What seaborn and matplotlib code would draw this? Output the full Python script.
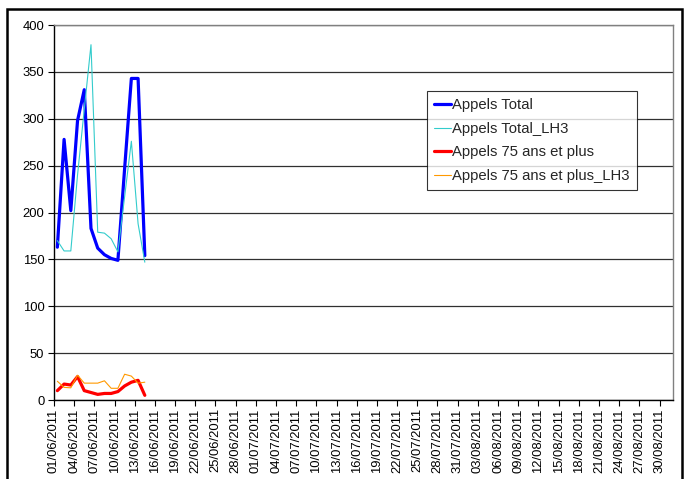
import matplotlib
matplotlib.use("Agg")
import matplotlib.pyplot as plt
import matplotlib.dates as mdates
from matplotlib.patches import Rectangle
import numpy as np
import pandas as pd
import seaborn as sns

# ---------------- data ----------------
dates = pd.date_range("2011-06-01", periods=14, freq="D")
appels_total = [163, 278, 202, 298, 331, 183, 162, 155, 151, 149, 247, 343, 343, 154]
appels_total_lh3 = [170, 159, 159, 240, 310, 379, 179, 178, 172, 158, 217, 276, 188, 147]
appels_75 = [10, 17, 16, 25, 10, 8, 6, 7, 7, 9, 15, 19, 21, 5]
appels_75_lh3 = [20, 13.5, 13, 26.5, 18, 18, 18, 20.5, 12.5, 12.5, 27.5, 25.5, 18, 19]
series_names = ["Appels Total", "Appels Total_LH3",
                "Appels 75 ans et plus", "Appels 75 ans et plus_LH3"]
axis_start = "2011-06-01"
axis_end = "2011-09-01"
tick_dates = pd.date_range("2011-06-01", "2011-08-30", freq="3D")
y_ticks = [0, 50, 100, 150, 200, 250, 300, 350, 400]

# ---------------- style ----------------
sns.set_theme(style="white")
plt.rcParams["font.family"] = ["Liberation Sans", "DejaVu Sans"]

colors = ["#0000FF", "#33CCCC", "#FF0000", "#FF9900"]
widths = [2.3, 0.8, 2.3, 0.8]

values = [appels_total, appels_total_lh3, appels_75, appels_75_lh3]
frames = []
for name, vals in zip(series_names, values):
    frames.append(pd.DataFrame({"date": dates + pd.Timedelta(hours=12),
                                "value": vals, "series": name}))
df = pd.concat(frames, ignore_index=True)

fig = plt.figure(figsize=(6.86, 4.79), dpi=100)
ax = fig.add_axes([0.0787, 0.1649, 0.9023, 0.7829])

for name, c, w in zip(series_names, colors, widths):
    sns.lineplot(data=df[df["series"] == name], x="date", y="value",
                 color=c, linewidth=w, label=name, ax=ax)

ax.set_xlim(pd.Timestamp(axis_start), pd.Timestamp(axis_end))
ax.set_ylim(0, 400)
ax.set_yticks(y_ticks)
ax.set_xticks(tick_dates)
ax.xaxis.set_major_formatter(mdates.DateFormatter("%d/%m/%Y"))
ax.set_xlabel("")
ax.set_ylabel("")

ax.tick_params(axis="x", rotation=90, labelsize=9.4, length=4, width=0.8,
               direction="out", bottom=True, colors="black", pad=2)
ax.tick_params(axis="y", labelsize=9.4, length=4, width=0.8,
               direction="out", left=True, colors="black", pad=3)

ax.yaxis.grid(True, color="#303030", linewidth=0.9)
ax.xaxis.grid(False)
ax.set_axisbelow(True)

for side in ["top", "right"]:
    ax.spines[side].set_color("#808080")
    ax.spines[side].set_linewidth(1.0)
for side in ["left", "bottom"]:
    ax.spines[side].set_color("black")
    ax.spines[side].set_linewidth(1.0)

leg = ax.legend(loc="upper left", bbox_to_anchor=(0.6026, 0.824),
                borderaxespad=0, frameon=True, fancybox=False, shadow=False,
                fontsize=10.7, handlelength=1.1, handletextpad=0.1,
                labelspacing=0.64, borderpad=0.5)
leg.get_frame().set_edgecolor("black")
leg.get_frame().set_linewidth(0.8)
leg.get_frame().set_facecolor("white")

# outer chart border
fig.patches.append(Rectangle((0.0095, -0.05), 0.985, 1.031,
                             transform=fig.transFigure, fill=False,
                             edgecolor="black", linewidth=1.8))

fig.savefig("out.png", dpi=100)
